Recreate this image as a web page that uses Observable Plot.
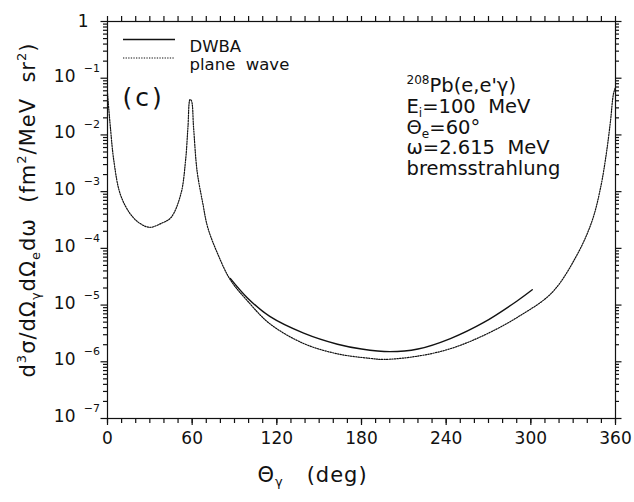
<!DOCTYPE html>
<html><head><meta charset="utf-8">
<script src="https://cdn.jsdelivr.net/npm/d3@7"></script>
<script src="https://cdn.jsdelivr.net/npm/@observablehq/plot@0.6"></script>
<style>body{margin:0;background:#fff} svg text{white-space:pre}</style>
</head><body><div id="chart"></div>
<script>
// ---- data ----
const planeWaveAngle = [0, 2, 4.5, 9, 16, 23, 30, 38, 45, 52, 55.3, 57, 58.5, 59.5, 61, 63.5, 67.5, 71, 78, 87, 99, 115, 139, 163, 186, 196, 220, 243, 267, 291, 315, 333, 343.5, 349.5, 353.5, 356.5, 358.5, 360];
const planeWaveValue = [5.4e-2, 1.4e-2, 3.5e-3, 9.1e-4, 4.1e-4, 2.75e-4, 2.35e-4, 2.75e-4, 3.5e-4, 9.1e-4, 3.5e-3, 1.35e-2, 4.2e-2, 4.0e-2, 1.35e-2, 2.3e-3, 6.3e-4, 2.35e-4, 8.1e-5, 2.8e-5, 1.2e-5, 4.7e-6, 2.1e-6, 1.38e-6, 1.15e-6, 1.1e-6, 1.26e-6, 1.7e-6, 2.95e-6, 6.2e-6, 1.66e-5, 7.9e-5, 3.1e-4, 1.2e-3, 4.7e-3, 1.8e-2, 5.2e-2, 7e-2];
const dwbaAngle = [87, 99, 115, 139, 163, 180, 200, 220, 243, 267, 290, 301];
const dwbaValue = [2.95e-5, 1.35e-5, 6.3e-6, 3.2e-6, 2.04e-6, 1.68e-6, 1.51e-6, 1.68e-6, 2.57e-6, 5.0e-6, 1.17e-5, 1.86e-5];

const xTicks = [0, 60, 120, 180, 240, 300, 360];
const xMinorTicks = d3.range(0, 361, 10);
const yDecades = [1e-7, 1e-6, 1e-5, 1e-4, 1e-3, 1e-2, 1e-1, 1];
const yTickBase = ["10", "10", "10", "10", "10", "10", "10", "1"];
const yTickExponent = ["−7", "−6", "−5", "−4", "−3", "−2", "−1", ""];
const yMinorTicks = yDecades.slice(0, -1).flatMap(d => d3.range(2, 10).map(m => m * d));

const legendLabels = ["DWBA", "plane  wave"];
const panelLabel = "(c)";
const annotationLines = ["^{208}Pb(e,e'γ)", "E_{i}=100  MeV", "Θ_{e}=60°", "ω=2.615  MeV", "bremsstrahlung"];
const xAxisLabel = "Θ_{γ}   (deg)";
const yAxisLabel = "d^{3}σ/dΩ_{γ}dΩ_{e}dω  (fm^{2}/MeV  sr^{2})";

const planeWave = planeWaveAngle.map((a, i) => ({angle: a, value: planeWaveValue[i]}));
const dwba = dwbaAngle.map((a, i) => ({angle: a, value: dwbaValue[i]}));

const ink = "#111";
const W = 634, H = 502;
const mL = 107, mR = 19, mT = 21, mB = 84;
const innerW = W - mL - mR, innerH = H - mT - mB;

function legendSamples(index, scales, values, dims) {
  const g = d3.create("svg:g");
  const x0 = dims.marginLeft + 16, x1 = dims.marginLeft + 68;
  const rows = [
    {dy: 18.5, dash: null, w: 1.3},
    {dy: 37, dash: "1.3,1.3", w: 1.2}
  ];
  rows.forEach(r => {
    g.append("line").attr("x1", x0).attr("x2", x1)
      .attr("y1", dims.marginTop + r.dy).attr("y2", dims.marginTop + r.dy)
      .attr("stroke", ink).attr("stroke-width", r.w)
      .attr("stroke-dasharray", r.dash);
  });
  return g.node();
}

const ax = {label: null, fill: ink, tickSize: 0};
const tk = {stroke: ink, strokeWidth: 1.2};

const svg = Plot.plot({
  width: W, height: H,
  marginLeft: mL, marginRight: mR, marginTop: mT, marginBottom: mB,
  style: {fontFamily: "DejaVu Sans", fontSize: "16px", color: ink, background: "#fff"},
  x: {domain: [0, 360], axis: null},
  y: {type: "log", domain: [1e-7, 1], axis: null},
  marks: [
    // tick marks (outward on all four sides)
    Plot.tickX(xMinorTicks, {...tk, x: d => d, insetTop: innerH, insetBottom: -5}),
    Plot.tickX(xTicks, {...tk, x: d => d, insetTop: innerH, insetBottom: -7}),
    Plot.tickX(xMinorTicks, {...tk, x: d => d, insetTop: -5, insetBottom: innerH}),
    Plot.tickY(yMinorTicks, {...tk, y: d => d, insetLeft: -4, insetRight: innerW}),
    Plot.tickY(yDecades, {...tk, y: d => d, insetLeft: -6.5, insetRight: innerW}),
    Plot.tickY(yMinorTicks, {...tk, y: d => d, insetLeft: innerW, insetRight: -4}),
    Plot.tickY(yDecades, {...tk, y: d => d, insetLeft: innerW, insetRight: -6.5}),
    // tick labels
    Plot.axisX({...ax, anchor: "bottom", ticks: xTicks, tickPadding: 13, fontSize: 17, tickFormat: d => String(d)}),
    Plot.axisY({...ax, anchor: "left", ticks: yDecades.slice(0, -1), tickPadding: 32, fontSize: 17, dy: -2,
      tickFormat: d => yTickBase[yDecades.indexOf(d)]}),
    Plot.axisY({...ax, anchor: "left", ticks: [1], tickPadding: 19, fontSize: 17,
      tickFormat: d => yTickBase[yDecades.indexOf(d)]}),
    Plot.axisY({...ax, anchor: "left", ticks: yDecades.slice(0, -1), tickPadding: 7.5, fontSize: 11, dy: -10,
      tickFormat: d => yTickExponent[yDecades.indexOf(d)]}),
    Plot.frame({stroke: ink, strokeWidth: 1.2}),
    // data
    Plot.line(planeWave, {x: "angle", y: "value", curve: "catmull-rom", stroke: ink, strokeWidth: 1.2, strokeDasharray: "1.3,1.3"}),
    Plot.line(dwba, {x: "angle", y: "value", curve: "catmull-rom", stroke: ink, strokeWidth: 1.4}),
    // legend
    legendSamples,
    Plot.text([legendLabels[0]], {text: d => d, frameAnchor: "top-left", textAnchor: "start", dx: 82, dy: 18.5, fontSize: 16.5, fill: ink}),
    Plot.text([legendLabels[1]], {text: d => d, frameAnchor: "top-left", textAnchor: "start", dx: 82, dy: 37, fontSize: 16.5, fill: ink}),
    Plot.text([panelLabel], {text: d => d, frameAnchor: "top-left", textAnchor: "start", dx: 15, dy: 67, fontSize: 25, fill: ink}),
    // annotation block
    ...annotationLines.map((t, i) => Plot.text([t], {text: d => d, frameAnchor: "top-left", textAnchor: "start",
      dx: 299, dy: 57 + i * 20.6, fontSize: 19.5, fill: ink})),
    // axis titles
    Plot.text([xAxisLabel], {text: d => d, frameAnchor: "bottom", textAnchor: "middle", dx: -49, dy: 63, fontSize: 21, fill: ink}),
    Plot.text([yAxisLabel], {text: d => d, frameAnchor: "left", textAnchor: "middle", rotate: -90, dx: -79, dy: -10, fontSize: 21, fill: ink})
  ]
});

document.getElementById("chart").appendChild(svg);

// rich text: ^{..} superscript, _{..} subscript
const NS = "http://www.w3.org/2000/svg";
svg.querySelectorAll("text").forEach(el => {
  const s = el.textContent;
  if (s === xAxisLabel || s === yAxisLabel) el.setAttribute("letter-spacing", "1");
  if (s === panelLabel) el.setAttribute("letter-spacing", "3");
  if (!/[_^]\{/.test(s)) return;
  const fs = parseFloat(getComputedStyle(el).fontSize);
  while (el.firstChild) el.removeChild(el.firstChild);
  let shift = 0;
  for (const part of s.split(/(\^\{[^}]*\}|_\{[^}]*\})/)) {
    if (!part) continue;
    const t = document.createElementNS(NS, "tspan");
    let target = 0, content = part, small = false;
    if (part.startsWith("^{")) { target = -0.42 * fs; content = part.slice(2, -1); small = true; }
    else if (part.startsWith("_{")) { target = 0.22 * fs; content = part.slice(2, -1); small = true; }
    if (target - shift !== 0) t.setAttribute("dy", target - shift);
    shift = target;
    if (small) t.setAttribute("font-size", 0.62 * fs);
    t.textContent = content;
    el.appendChild(t);
  }
});
</script>
</body></html>
